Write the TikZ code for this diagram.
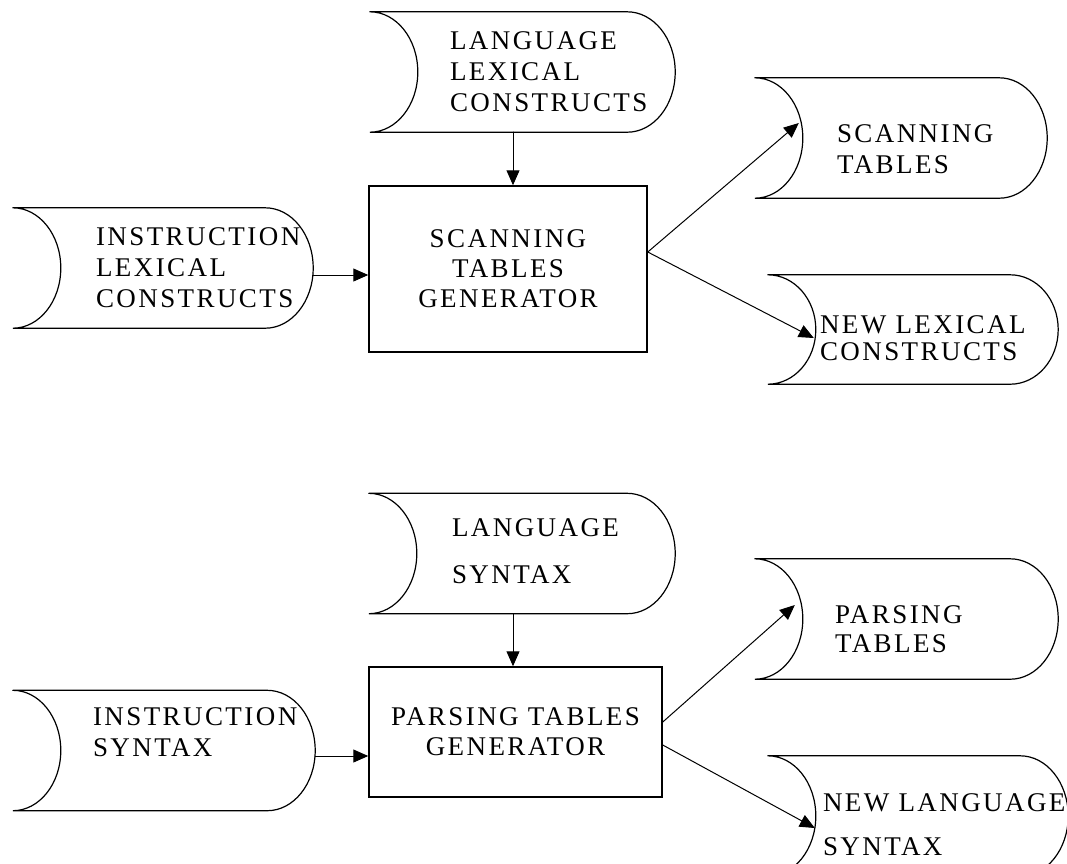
\documentclass[tikz,border=0pt]{standalone}
\usepackage{fontspec}
\usetikzlibrary{arrows.meta,calc}
\newfontfamily\capsfont{Liberation Serif}[LetterSpace=9]

\begin{document}
\begin{tikzpicture}[x=1pt,y=1pt,line cap=round,
  store/.style={minimum width=300pt,minimum height=120pt,inner sep=0pt},
  caps/.style={anchor=west,align=left,inner sep=0pt,font=\capsfont\fontsize{27}{31}\selectfont},
  genbox/.style={draw,line width=1.5pt,align=center,inner sep=0pt,font=\capsfont\fontsize{27}{30}\selectfont},
  flow/.style={-{Triangle[length=15pt,width=13pt]},line width=1pt}]
  \useasboundingbox (0,0) rectangle (1067,-863);
  % scanning tables
  \node[store,minimum width=305pt] (langlex) at (522.5,-72) {};
  \node[store] (instlex) at (163,-268) {};
  \node[store,minimum width=292pt] (scantab) at (901,-138) {};
  \node[store,minimum width=290pt,minimum height=109pt] (newlex) at (913,-329.5) {};
  \node[genbox,minimum width=278pt,minimum height=166pt] (scangen) at (508,-269) {SCANNING\\TABLES\\GENERATOR};
  % parsing tables
  \node[store,minimum width=306pt] (langsyn) at (522,-553.5) {};
  \node[store,minimum width=302pt] (instsyn) at (164,-750.5) {};
  \node[store,minimum width=303pt] (parstab) at (906.5,-619) {};
  \node[store] (newsyn) at (918,-816) {};
  \node[genbox,minimum width=293pt,minimum height=130pt] (parsgen) at (515.5,-732) {PARSING TABLES\\GENERATOR};

  \foreach \s in {langlex,instlex,scantab,newlex,langsyn,instsyn,parstab,newsyn}{
    \draw[line width=1.2pt] let \p1=(\s.north west),\p2=(\s.south east),\n1={(\y1-\y2)/2} in
      (\p1) -- (\x2-48pt,\y1) arc[start angle=90,end angle=-90,x radius=48pt,y radius=\n1]
      -- (\x1,\y2) arc[start angle=-90,end angle=90,x radius=48pt,y radius=\n1];
  }

  \node[caps] (tlanglex) at ([xshift=80pt]langlex.west) {LANGUAGE\\LEXICAL\\CONSTRUCTS};
  \node[caps] (tinstlex) at ([xshift=83pt]instlex.west) {INSTRUCTION\\LEXICAL\\CONSTRUCTS};
  \node[caps] (tscantab) at ([xshift=82pt,yshift=-11pt]scantab.west) {SCANNING\\TABLES};
  \node[caps] (tnewlex) at ([xshift=52pt,yshift=-9pt]newlex.west) {NEW LEXICAL\\[-4pt]CONSTRUCTS};
  \node[caps] (tlangsyn) at ([xshift=83pt,yshift=2pt]langsyn.west) {LANGUAGE\\[16pt]SYNTAX};
  \node[caps] (tinstsyn) at ([xshift=80pt,yshift=18pt]instsyn.west) {INSTRUCTION\\SYNTAX};
  \node[caps] (tparstab) at ([xshift=80pt,yshift=-10.5pt]parstab.west) {PARSING\\[-2pt]TABLES};
  \node[caps] (tnewsyn) at ([xshift=55pt,yshift=-9pt]newsyn.west) {NEW LANGUAGE\\[13pt]SYNTAX};

  \draw[flow] ([xshift=-9.5pt]langlex.south) -- ([xshift=-9.5pt]langlex.south |- scangen.north);
  \draw[flow] ([yshift=-7pt]instlex.east) -- ([yshift=-7pt]instlex.east -| scangen.west);
  \draw[flow] ([yshift=17pt]scangen.east) -- ([xshift=44pt,yshift=15pt]scantab.west);
  \draw[flow] ([yshift=17pt]scangen.east) -- ([xshift=46pt,yshift=-8.5pt]newlex.west);
  \draw[flow] ([xshift=-9pt]langsyn.south) -- ([xshift=-9pt]langsyn.south |- parsgen.north);
  \draw[flow] ([yshift=-5.5pt]instsyn.east) -- ([yshift=-5.5pt]instsyn.east -| parsgen.west);
  \draw[flow] ([yshift=10pt]parsgen.east) -- ([xshift=40pt,yshift=14pt]parstab.west);
  \draw[flow] ([yshift=-13pt]parsgen.east) -- ([xshift=47pt,yshift=-12pt]newsyn.west);
\end{tikzpicture}
\end{document}
